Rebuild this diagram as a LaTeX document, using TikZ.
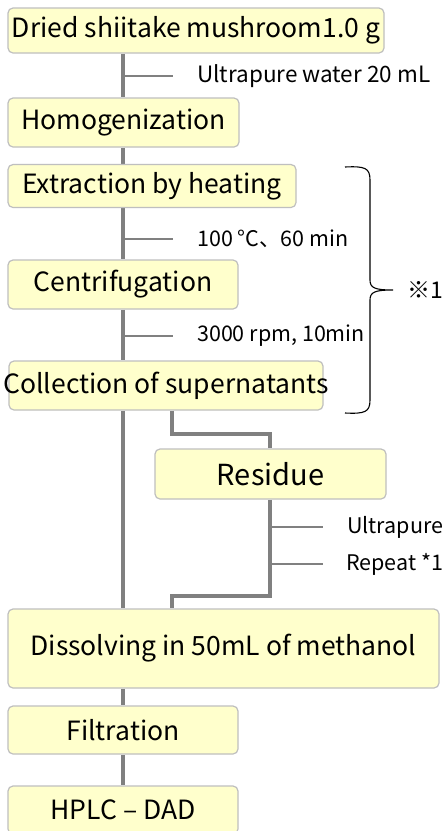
\documentclass[tikz,border=0pt]{standalone}
\usepackage{fontspec}
\setmainfont{Noto Sans CJK JP}
\usetikzlibrary{backgrounds,calc}
\definecolor{boxfill}{HTML}{FFFFCC}
\definecolor{boxline}{HTML}{BFBFBF}
\definecolor{lingray}{HTML}{808080}
\tikzset{
  stepbox/.style={draw=boxline, line width=1.2pt, fill=boxfill, rounded corners=5pt, inner sep=0pt, font=\fontsize{26.5}{30}\selectfont},
  mainline/.style={draw=lingray, line width=4pt},
  branchline/.style={draw=lingray, line width=1.4pt},
  note/.style={anchor=west, inner sep=0pt, font=\fontsize{21.5}{25}\selectfont},
}
\begin{document}
\begin{tikzpicture}[x=1pt,y=-1pt]
\clip (0,0) rectangle (444,831);
\coordinate (mx) at (123,0);
\coordinate (rx) at (270,0);
\coordinate (lx) at (172,0);
% boxes
\node[stepbox, minimum width=376, minimum height=45] (b1) at (196,30.5) {Dried shiitake mushroom1.0 g};
\node[stepbox, minimum width=231, minimum height=49] (b2) at (123.5,122.5) {Homogenization};
\node[stepbox, minimum width=288, minimum height=43] (b3) at (152,186) {Extraction by heating};
\node[stepbox, minimum width=230, minimum height=49] (b4) at (123,284.5) {Centrifugation};
\node[stepbox, minimum width=314, minimum height=49] (b5) at (166,385.5) {\makebox[0pt]{Collection of supernatants}};
\node[stepbox, minimum width=231, minimum height=50, font=\fontsize{29}{32}\selectfont] (b6) at (270.5,474) {Residue};
\node[stepbox, minimum width=431, minimum height=79] (b7) at (223.5,648.5) {Dissolving in 50mL of methanol};
\node[stepbox, minimum width=230, minimum height=48] (b8) at (123,730) {Filtration};
\node[stepbox, minimum width=230, minimum height=48] (b9) at (123,810) {HPLC -- DAD};
% notes
\node[note, font=\fontsize{22.5}{26}\selectfont] (n1) at (197,76) {Ultrapure water 20 mL};
\node[note] (n2) at (197,239) {100 °C、60 min};
\node[note] (n3) at (197,336) {3000 rpm, 10min};
\node[note] (n4) at (347,527) {Ultrapure};
\node[note] (n5) at (346,564) {Repeat *1};
\node[note, font=\fontsize{23}{26}\selectfont] (n6) at (407,290) {※1};
% brace
\coordinate (bt) at (345,167);
\coordinate (bb) at (345,413);
\coordinate (btip) at (393,290);
\draw[black, line width=1.1pt]
  (bt) .. controls (365,166) and (370,168) .. (370,180) -- (370,280)
  .. controls (370,288) and (375,290) .. (btip)
  .. controls (375,290) and (370,292) .. (370,300) -- (370,400)
  .. controls (370,412) and (365,414) .. (bb);
\begin{scope}[on background layer]
  \fill[white] (0,0) rectangle (444,831);
  \draw[mainline] (b1.south -| mx) -- (b2.north -| mx);
  \draw[mainline] (b2.south -| mx) -- (b3.north -| mx);
  \draw[mainline] (b3.south -| mx) -- (b4.north -| mx);
  \draw[mainline] (b4.south -| mx) -- (b5.north -| mx);
  \draw[mainline] (b5.south -| mx) -- (b7.north -| mx);
  \draw[mainline] (b7.south -| mx) -- (b8.north -| mx);
  \draw[mainline] (b8.south -| mx) -- (b9.north -| mx);
  \draw[mainline] (b5.south -| lx) -- ++(0,23) -| (b6.north -| rx);
  \draw[mainline] (b6.south -| rx) -- ++(0,96) -| (b7.north -| lx);
  \draw[branchline] (n1.west -| mx) -- ($(n1.west)+(-24,0)$);
  \draw[branchline] (n2.west -| mx) -- ($(n2.west)+(-24,0)$);
  \draw[branchline] (n3.west -| mx) -- ($(n3.west)+(-24,0)$);
  \draw[branchline] (n4.west -| rx) -- ($(n4.west)+(-24,0)$);
  \draw[branchline] (n5.west -| rx) -- ($(n5.west)+(-23,0)$);
\end{scope}
\end{tikzpicture}
\end{document}
